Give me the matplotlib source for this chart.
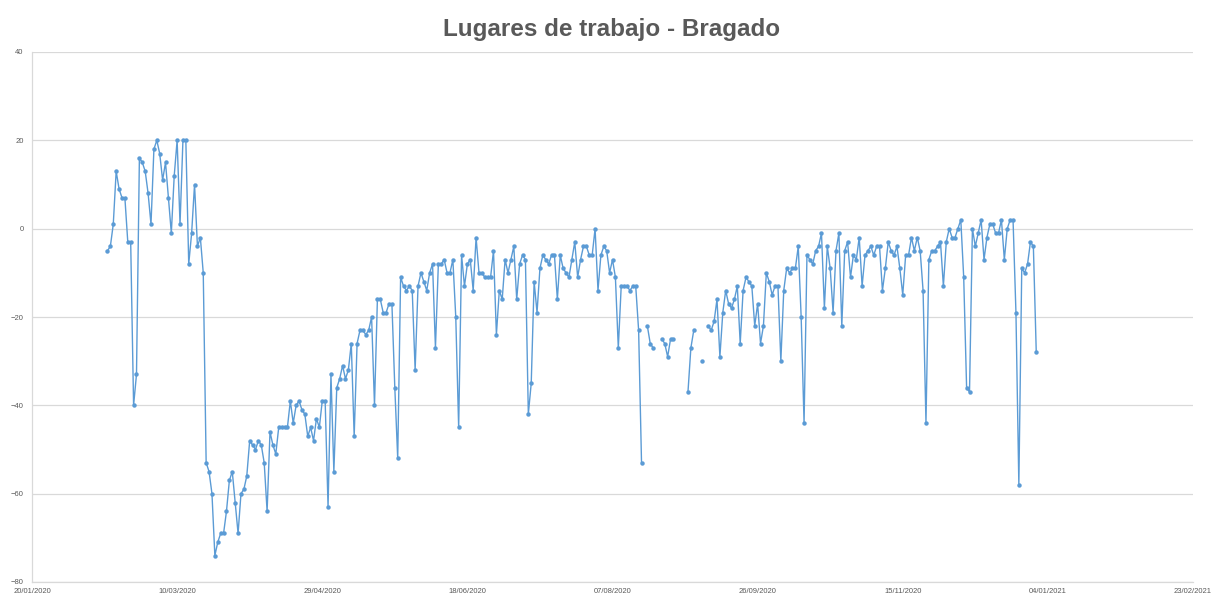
import numpy as np
import pandas as pd
import matplotlib
matplotlib.use("Agg")
from matplotlib import pyplot as plt
import matplotlib.dates as mdates

# Google mobility - workplaces, Bragado (daily, from 15/02/2020)
start_date = "2020-02-15"
nan = np.nan
valores = [
    -5, -4, 1, 13, 9, 7, 7, -3, -3, -40,
    -33, 16, 15, 13, 8, 1, 18, 20, 17, 11,
    15, 7, -1, 12, 20, 1, 20, 20, -8, -1,
    10, -4, -2, -10, -53, -55, -60, -74, -71, -69,
    -69, -64, -57, -55, -62, -69, -60, -59, -56, -48,
    -49, -50, -48, -49, -53, -64, -46, -49, -51, -45,
    -45, -45, -45, -39, -44, -40, -39, -41, -42, -47,
    -45, -48, -43, -45, -39, -39, -63, -33, -55, -36,
    -34, -31, -34, -32, -26, -47, -26, -23, -23, -24,
    -23, -20, -40, -16, -16, -19, -19, -17, -17, -36,
    -52, -11, -13, -14, -13, -14, -32, -13, -10, -12,
    -14, -10, -8, -27, -8, -8, -7, -10, -10, -7,
    -20, -45, -6, -13, -8, -7, -14, -2, -10, -10,
    -11, -11, -11, -5, -24, -14, -16, -7, -10, -7,
    -4, -16, -8, -6, -7, -42, -35, -12, -19, -9,
    -6, -7, -8, -6, -6, -16, -6, -9, -10, -11,
    -7, -3, -11, -7, -4, -4, -6, -6, 0, -14,
    -6, -4, -5, -10, -7, -11, -27, -13, -13, -13,
    -14, -13, -13, -23, -53, nan, -22, -26, -27, nan,
    nan, -25, -26, -29, -25, -25, nan, nan, nan, nan,
    -37, -27, -23, nan, nan, -30, nan, -22, -23, -21,
    -16, -29, -19, -14, -17, -18, -16, -13, -26, -14,
    -11, -12, -13, -22, -17, -26, -22, -10, -12, -15,
    -13, -13, -30, -14, -9, -10, -9, -9, -4, -20,
    -44, -6, -7, -8, -5, -4, -1, -18, -4, -9,
    -19, -5, -1, -22, -5, -3, -11, -6, -7, -2,
    -13, -6, -5, -4, -6, -4, -4, -14, -9, -3,
    -5, -6, -4, -9, -15, -6, -6, -2, -5, -2,
    -5, -14, -44, -7, -5, -5, -4, -3, -13, -3,
    0, -2, -2, 0, 2, -11, -36, -37, 0, -4,
    -1, 2, -7, -2, 1, 1, -1, -1, 2, -7,
    0, 2, 2, -19, -58, -9, -10, -8, -3, -4,
    -28,
]
fechas = pd.date_range(start_date, periods=len(valores), freq="D")

titulo = "Lugares de trabajo - Bragado"
y_ticks = [-80, -60, -40, -20, 0, 20, 40]
x_start = pd.Timestamp("2020-01-20")
x_end = pd.Timestamp("2021-02-23")
x_ticks = pd.date_range(x_start, x_end, freq="50D")

azul = "#5B9BD5"
gris_texto = "#595959"
gris_grid = "#D9D9D9"

plt.rcParams["font.family"] = ["Liberation Sans", "DejaVu Sans"]

fig = plt.figure(figsize=(12.12, 5.95), dpi=100)
ax = fig.add_axes([32 / 1212, 13 / 595, 1161 / 1212, 530 / 595])

ax.plot(fechas, valores, color=azul, linewidth=1.0, marker="o",
        markersize=3.2, markeredgewidth=0, zorder=3)

ax.set_xlim(x_start, x_end)
ax.set_ylim(-80, 40)
ax.set_yticks(y_ticks)
ax.set_xticks(x_ticks)
ax.xaxis.set_major_formatter(mdates.DateFormatter("%d/%m/%Y"))

ax.grid(axis="y", color=gris_grid, linewidth=0.9, zorder=0)
ax.grid(axis="x", visible=False)
for side in ["top", "right"]:
    ax.spines[side].set_visible(False)
for side in ["left", "bottom"]:
    ax.spines[side].set_color(gris_grid)
    ax.spines[side].set_linewidth(0.9)

ax.tick_params(axis="both", length=0, labelsize=5.5, colors=gris_texto)
ax.tick_params(axis="x", pad=4)
ax.tick_params(axis="y", pad=6)

fig.suptitle(titulo, x=0.505, y=0.97, fontsize=17.5, fontweight="bold",
             color=gris_texto)

fig.savefig("out.png", dpi=100, facecolor="white")
